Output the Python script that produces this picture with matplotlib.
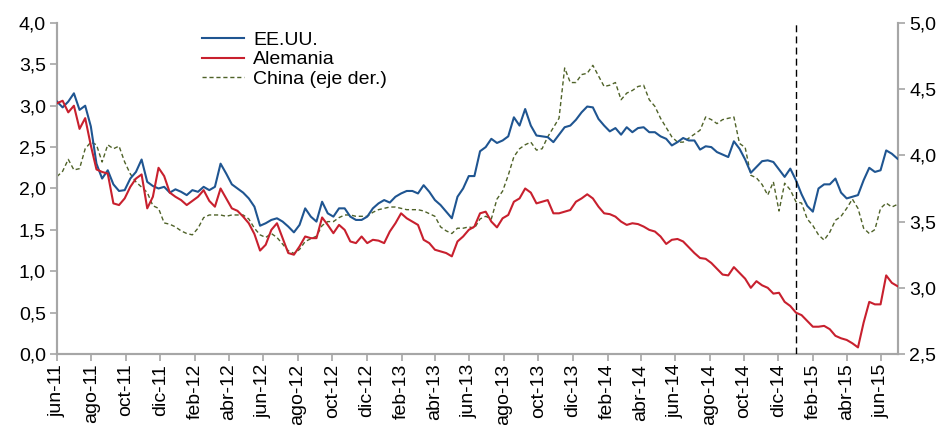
import matplotlib
matplotlib.use("Agg")
import matplotlib.pyplot as plt
import matplotlib.dates as mdates
import pandas as pd
import numpy as np

plt.rcParams['font.family'] = ['Liberation Sans', 'DejaVu Sans']

# 10-day sampling from 1 Jun 2011 to end of Jun 2015
start_date = "2011-06-01"
n_points = 150

eeuu = [
    3.05, 2.98, 3.05, 3.15, 2.95, 3.00, 2.75, 2.30, 2.12, 2.22,
    2.05, 1.97, 1.98, 2.12, 2.20, 2.35, 2.08, 2.03, 2.00, 2.02,
    1.95, 1.99, 1.96, 1.92, 1.98, 1.96, 2.02, 1.98, 2.02, 2.30,
    2.18, 2.05, 2.00, 1.95, 1.88, 1.78, 1.55, 1.58, 1.62, 1.64,
    1.60, 1.54, 1.47, 1.56, 1.76, 1.66, 1.60, 1.84, 1.70, 1.66,
    1.76, 1.76, 1.66, 1.62, 1.62, 1.66, 1.76, 1.82, 1.86, 1.83,
    1.90, 1.94, 1.97, 1.97, 1.94, 2.04, 1.96, 1.86, 1.80, 1.72,
    1.64, 1.90, 2.00, 2.15, 2.15, 2.45, 2.50, 2.60, 2.55, 2.58,
    2.63, 2.86, 2.76, 2.96, 2.76, 2.64, 2.63, 2.62, 2.56, 2.65,
    2.74, 2.76, 2.83, 2.92, 2.99, 2.98, 2.84, 2.76, 2.69, 2.73,
    2.65, 2.74, 2.68, 2.73, 2.74, 2.68, 2.68, 2.63, 2.60, 2.52,
    2.56, 2.61, 2.58, 2.58, 2.47, 2.51, 2.50, 2.44, 2.41, 2.38,
    2.57, 2.48, 2.35, 2.19, 2.26, 2.33, 2.34, 2.32, 2.23, 2.14,
    2.24, 2.10, 1.93, 1.79, 1.72, 2.00, 2.05, 2.05, 2.12, 1.95,
    1.88, 1.90, 1.92, 2.10, 2.25, 2.20, 2.22, 2.46, 2.42, 2.36,
]

alemania = [
    3.03, 3.06, 2.92, 3.00, 2.72, 2.85, 2.52, 2.23, 2.20, 2.18,
    1.82, 1.80, 1.88, 2.02, 2.12, 2.17, 1.76, 1.90, 2.25, 2.15,
    1.95, 1.90, 1.86, 1.80, 1.85, 1.90, 1.98, 1.85, 1.78, 2.00,
    1.88, 1.76, 1.73, 1.66, 1.58, 1.45, 1.25, 1.32, 1.50, 1.58,
    1.40, 1.22, 1.20, 1.30, 1.42, 1.40, 1.40, 1.65, 1.56, 1.46,
    1.56, 1.50, 1.36, 1.34, 1.42, 1.34, 1.38, 1.37, 1.34, 1.48,
    1.58, 1.70, 1.64, 1.60, 1.56, 1.38, 1.34, 1.26, 1.24, 1.22,
    1.18, 1.36, 1.42, 1.50, 1.54, 1.70, 1.72, 1.60, 1.53, 1.64,
    1.68, 1.84, 1.88, 2.00, 1.95, 1.82, 1.84, 1.86, 1.70, 1.70,
    1.72, 1.74, 1.84, 1.88, 1.93, 1.88, 1.78, 1.70, 1.69, 1.66,
    1.60, 1.56, 1.58, 1.57, 1.54, 1.50, 1.48, 1.42, 1.33, 1.38,
    1.39, 1.36, 1.29, 1.22, 1.16, 1.15, 1.10, 1.03, 0.96, 0.95,
    1.05, 0.98, 0.91, 0.80, 0.88, 0.83, 0.80, 0.73, 0.74, 0.63,
    0.58, 0.50, 0.47, 0.40, 0.33, 0.33, 0.34, 0.30, 0.22, 0.19,
    0.17, 0.13, 0.08, 0.38, 0.63, 0.60, 0.60, 0.95, 0.86, 0.82,
]

china = [
    3.84, 3.88, 3.97, 3.89, 3.90, 4.05, 4.10, 4.08, 3.95, 4.08,
    4.05, 4.07, 3.95, 3.86, 3.80, 3.76, 3.72, 3.62, 3.60, 3.49,
    3.48, 3.46, 3.43, 3.41, 3.40, 3.45, 3.53, 3.55, 3.55, 3.55,
    3.54, 3.55, 3.55, 3.55, 3.52, 3.45, 3.40, 3.38, 3.41, 3.38,
    3.33, 3.28, 3.26, 3.29, 3.35, 3.37, 3.39, 3.47, 3.50, 3.50,
    3.53, 3.55, 3.55, 3.54, 3.54, 3.54, 3.57, 3.59, 3.60, 3.61,
    3.61, 3.60, 3.59, 3.59, 3.59, 3.58, 3.56, 3.54, 3.46, 3.43,
    3.41, 3.45, 3.45, 3.46, 3.45, 3.52, 3.54, 3.52, 3.67, 3.73,
    3.85, 3.99, 4.05, 4.08, 4.10, 4.04, 4.05, 4.14, 4.21, 4.28,
    4.66, 4.55, 4.55, 4.61, 4.62, 4.68, 4.60, 4.52, 4.53, 4.55,
    4.42, 4.47, 4.49, 4.52, 4.53, 4.42, 4.37, 4.28, 4.21, 4.14,
    4.10, 4.10, 4.13, 4.16, 4.19, 4.29, 4.27, 4.24, 4.27, 4.28,
    4.29, 4.09, 4.06, 3.85, 3.83, 3.78, 3.70, 3.80, 3.58, 3.79,
    3.74, 3.65, 3.64, 3.52, 3.47, 3.40, 3.36, 3.42, 3.51, 3.54,
    3.60, 3.67, 3.60, 3.45, 3.41, 3.44, 3.60, 3.64, 3.61, 3.63,
]

series_labels = ["EE.UU.", "Alemania", "China (eje der.)"]
month_names = ["ene", "feb", "mar", "abr", "may", "jun",
               "jul", "ago", "sep", "oct", "nov", "dic"]
event_date = "2015-01-02"

dates = pd.date_range(start_date, periods=n_points, freq="10D")

fig = plt.figure(figsize=(9.45, 4.25), dpi=100)
ax = fig.add_axes([0.0603, 0.167, 0.8900, 0.779])
ax2 = ax.twinx()

c_us = "#1F5591"
c_de = "#C8202E"
c_cn = "#4F6228"
spine_c = "#A6A6A6"

l1, = ax.plot(dates, eeuu, color=c_us, lw=1.5, label=series_labels[0], zorder=3)
l2, = ax.plot(dates, alemania, color=c_de, lw=1.5, label=series_labels[1], zorder=3)
l3, = ax2.plot(dates, china, color=c_cn, lw=1.0, ls=(0, (3, 2)), label=series_labels[2])
ax.set_zorder(ax2.get_zorder() + 1)
ax.patch.set_visible(False)

ax.axvline(pd.Timestamp(event_date), color="black", lw=1.0, ls=(0, (5, 3)), zorder=4)

ax.set_xlim(pd.Timestamp("2011-06-01"), pd.Timestamp("2015-07-01"))
ax.set_ylim(0, 4.0)
ax2.set_ylim(2.5, 5.0)
ax.set_yticks(np.arange(0, 4.01, 0.5))
ax2.set_yticks(np.arange(2.5, 5.01, 0.5))
fmt = lambda v: f"{v:.1f}".replace(".", ",")
ax.set_yticklabels([fmt(v) for v in ax.get_yticks()])
ax2.set_yticklabels([fmt(v) for v in ax2.get_yticks()])

xt = pd.date_range("2011-06-01", "2015-06-01", freq="2MS")
ax.set_xticks(xt)
ax.set_xticklabels([f"{month_names[d.month-1]}-{d.year % 100:02d}" for d in xt],
                   rotation=90, ha="center", va="top")

for a in (ax, ax2):
    a.spines["top"].set_visible(False)
    for s in ("left", "right", "bottom"):
        a.spines[s].set_color(spine_c)
        a.spines[s].set_linewidth(1.5)
    a.tick_params(colors=spine_c, labelcolor="black", labelsize=14, width=1.2, length=5)
ax.tick_params(axis="x", pad=2)
ax.tick_params(axis="y", pad=3)
ax2.tick_params(axis="y", pad=3)

leg = ax.legend(handles=[l1, l2, l3], loc="upper left",
                bbox_to_anchor=(0.172, 0.975), frameon=False, fontsize=14,
                handlelength=2.2, handletextpad=0.45, labelspacing=0.1,
                borderpad=0, borderaxespad=0)

fig.savefig("out.png", dpi=100)
